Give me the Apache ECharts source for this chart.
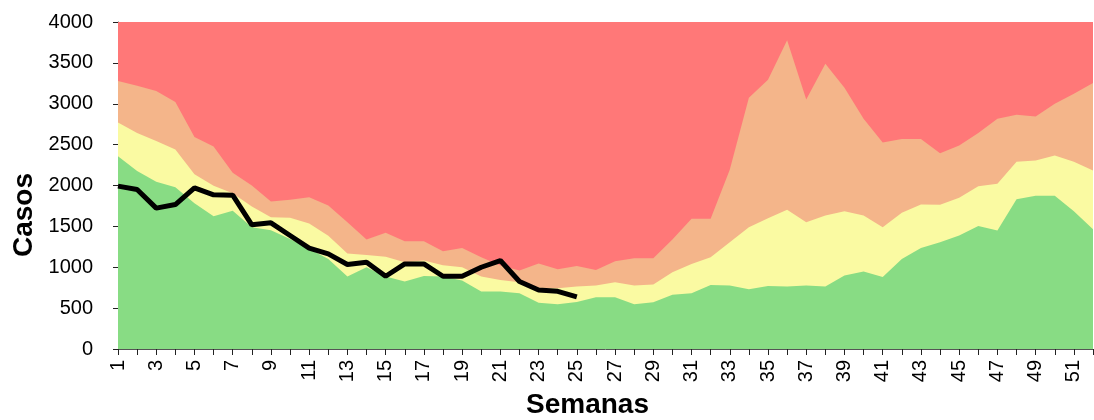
<!DOCTYPE html>
<html><head><meta charset="utf-8">
<script src="https://cdn.jsdelivr.net/npm/echarts@6/dist/echarts.min.js"></script>
<style>html,body{margin:0;padding:0;background:#fff}#c{width:1094px;height:420px}</style>
</head><body><div id="c"></div>
<script>
var weeks = [];
for (var i = 1; i <= 52; i++) weeks.push(String(i));
var yTicks = [0, 500, 1000, 1500, 2000, 2500, 3000, 3500, 4000];

// upper boundary of each zone (cases)
var redTop = [4000,4000,4000,4000,4000,4000,4000,4000,4000,4000,4000,4000,4000,4000,4000,4000,4000,4000,4000,4000,4000,4000,4000,4000,4000,4000,4000,4000,4000,4000,4000,4000,4000,4000,4000,4000,4000,4000,4000,4000,4000,4000,4000,4000,4000,4000,4000,4000,4000,4000,4000,4000];
var orangeTop = [3278,3221,3155,3021,2592,2478,2155,2000,1804,1825,1857,1755,1551,1339,1421,1318,1318,1196,1237,1123,1020,959,1045,976,1016,967,1074,1110,1110,1339,1592,1592,2192,3074,3294,3776,3053,3490,3196,2817,2527,2568,2568,2396,2490,2641,2817,2866,2845,3000,3123,3253];
var yellowTop = [2772,2641,2543,2441,2139,1996,1906,1743,1612,1604,1535,1384,1167,1151,1127,1061,1082,1025,1000,886,845,816,750,743,763,776,816,776,788,939,1041,1123,1306,1490,1600,1702,1551,1633,1686,1633,1490,1666,1767,1763,1849,1992,2021,2290,2306,2368,2290,2184];
var greenTop = [2359,2176,2045,1980,1784,1625,1690,1490,1453,1347,1225,1102,886,1000,886,825,894,886,837,702,702,682,567,547,576,633,633,547,571,665,682,784,776,731,770,763,776,763,898,947,882,1102,1237,1306,1388,1506,1449,1833,1874,1874,1686,1465];
var casos = [1992,1951,1723,1767,1972,1886,1882,1519,1543,1388,1233,1163,1033,1061,890,1041,1041,890,890,1000,1082,825,722,706,637];

function zone(data, color) {
  return {
    type: 'line', data: data, symbol: 'none', silent: true,
    lineStyle: { width: 0 }, areaStyle: { color: color, opacity: 1 }
  };
}

var chart = echarts.init(document.getElementById('c'));
chart.setOption({
  animation: false,
  grid: { left: 118, right: 1, top: 22, bottom: 71 },
  xAxis: {
    type: 'category', data: weeks, boundaryGap: false,
    axisLine: { lineStyle: { color: '#555', width: 1 } },
    axisTick: { alignWithLabel: true, interval: 0, length: 6, lineStyle: { color: '#222' } },
    axisLabel: { interval: 1, rotate: 90, fontSize: 20, color: '#000', fontFamily: 'Liberation Sans, Arial', margin: 11 },
    splitLine: { show: false }
  },
  yAxis: {
    type: 'value', min: yTicks[0], max: yTicks[yTicks.length - 1], interval: 500,
    axisLine: { show: true, lineStyle: { color: '#555', width: 1 } },
    axisTick: { show: true, length: 5, lineStyle: { color: '#222' } },
    axisLabel: { fontSize: 20, color: '#000', fontFamily: 'Liberation Sans, Arial', margin: 25,
      formatter: function (v) { return String(v); } },
    splitLine: { show: false }
  },
  graphic: [
    { type: 'text', left: 10, top: 173, rotation: Math.PI / 2,
      style: { text: 'Casos', font: 'bold 28px "Liberation Sans", Arial', fill: '#000' } },
    { type: 'text', left: 526, top: 391,
      style: { text: 'Semanas', font: 'bold 28px "Liberation Sans", Arial', fill: '#000' } }
  ],
  series: [
    zone(redTop, '#FF7878'),
    zone(orangeTop, '#F4B58A'),
    zone(yellowTop, '#FAFAA2'),
    zone(greenTop, '#88DC84'),
    { type: 'line', data: casos, symbol: 'none', lineStyle: { color: '#000', width: 5 }, z: 5 }
  ]
});
</script></body></html>
